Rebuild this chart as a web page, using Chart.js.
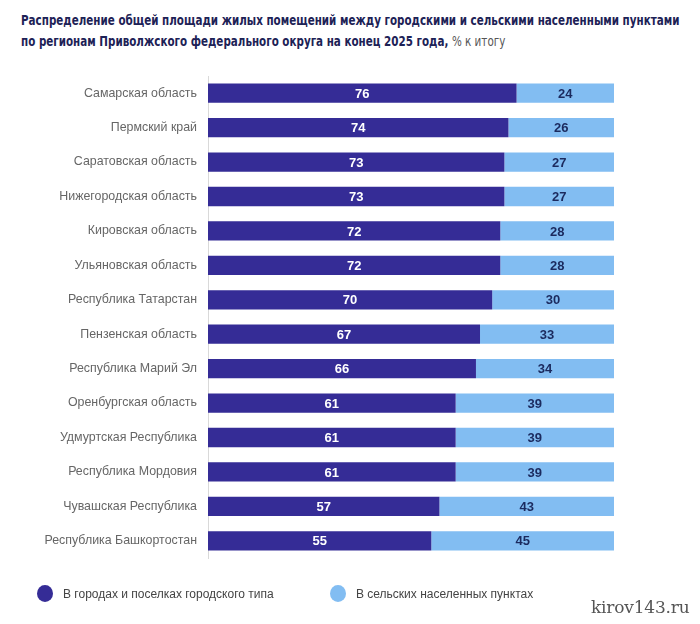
<!DOCTYPE html>
<html>
<head>
<meta charset="utf-8">
<script src="https://cdn.jsdelivr.net/npm/chart.js@4.4.1/dist/chart.umd.min.js"></script>
<style>
    html, body { margin: 0; padding: 0; background: #fff; }
    #wrap { position: relative; width: 700px; height: 624px; overflow: hidden; }
    #title {
        position: absolute; left: 21px; top: 10px; width: 800px;
        font-family: "DejaVu Sans Condensed", "Liberation Sans Narrow", sans-serif;
        font-weight: bold; font-size: 13.5px; line-height: 21px; color: #1d2256;
        white-space: nowrap; transform: scaleX(0.853); transform-origin: left top;
    }
    #title .unit { font-weight: normal; color: #555; }
    #chart { position: absolute; left: 0; top: 0; }
    .legend-item {
        position: absolute; top: 585px; display: flex; align-items: center;
        font-family: "Liberation Sans", Arial, sans-serif; font-size: 12px; color: #444;
    }
    .legend-item .dot { width: 16px; height: 17px; border-radius: 50%; margin-right: 10px; }
    #watermark {
        position: absolute; left: 591px; top: 597px;
        font-family: "DejaVu Serif", "Liberation Serif", serif; font-size: 17px; color: #555;
        letter-spacing: -0.2px;
    }
</style>
</head>
<body>
<div id="wrap">
    <div id="title">Распределение общей площади жилых помещений между городскими и сельскими населенными пунктами<br>по регионам Приволжского федерального округа на конец 2025 года, <span class="unit">% к итогу</span></div>
    <canvas id="chart" width="700" height="624"></canvas>
    <div class="legend-item" style="left:37px;"><span class="dot" style="background:#352c96"></span>В городах и поселках городского типа</div>
    <div class="legend-item" style="left:330px;"><span class="dot" style="background:#82bdf2"></span>В сельских населенных пунктах</div>
    <div id="watermark">kirov143.ru</div>
</div>
<script>
const regions = [
    'Самарская область',
    'Пермский край',
    'Саратовская область',
    'Нижегородская область',
    'Кировская область',
    'Ульяновская область',
    'Республика Татарстан',
    'Пензенская область',
    'Республика Марий Эл',
    'Оренбургская область',
    'Удмуртская Республика',
    'Республика Мордовия',
    'Чувашская Республика',
    'Республика Башкортостан'
];
const urbanShare = [76, 74, 73, 73, 72, 72, 70, 67, 66, 61, 61, 61, 57, 55];
const ruralShare = [24, 26, 27, 27, 28, 28, 30, 33, 34, 39, 39, 39, 43, 45];
const seriesNames = ['В городах и поселках городского типа', 'В сельских населенных пунктах'];

// value labels in the middle of each segment
const barLabels = {
    id: 'barLabels',
    afterDatasetsDraw(chart) {
        const ctx = chart.ctx;
        const labelColors = ['#ffffff', '#1b2a5e'];
        ctx.save();
        ctx.font = 'bold 13px "Liberation Sans", Arial, sans-serif';
        ctx.textAlign = 'center';
        ctx.textBaseline = 'middle';
        chart.data.datasets.forEach((ds, i) => {
            const meta = chart.getDatasetMeta(i);
            ctx.fillStyle = labelColors[i];
            meta.data.forEach((bar, j) => {
                const x = (bar.x + bar.base) / 2;
                ctx.fillText(ds.data[j], x, bar.y + 1);
            });
        });
        ctx.restore();
    }
};

new Chart(document.getElementById('chart'), {
    type: 'bar',
    data: {
        labels: regions,
        datasets: [
            { label: seriesNames[0], data: urbanShare, backgroundColor: '#352c96' },
            { label: seriesNames[1], data: ruralShare, backgroundColor: '#82bdf2' }
        ]
    },
    options: {
        indexAxis: 'y',
        responsive: false,
        animation: false,
        layout: { padding: { left: 0, right: 86, top: 76, bottom: 66 } },
        datasets: { bar: { categoryPercentage: 1, barPercentage: 0.56 } },
        scales: {
            x: { stacked: true, min: 0, max: 100, display: false },
            y: {
                stacked: true,
                afterFit: scale => { scale.width = 208; },
                grid: { display: false, drawTicks: false },
                border: { display: true, color: '#d9d9d9', width: 1 },
                ticks: {
                    padding: 11,
                    color: '#666',
                    font: { family: '"Liberation Sans", Arial, sans-serif', size: 12.4 }
                }
            }
        },
        plugins: {
            legend: { display: false },
            tooltip: { enabled: false }
        }
    },
    plugins: [barLabels]
});
</script>
</body>
</html>
